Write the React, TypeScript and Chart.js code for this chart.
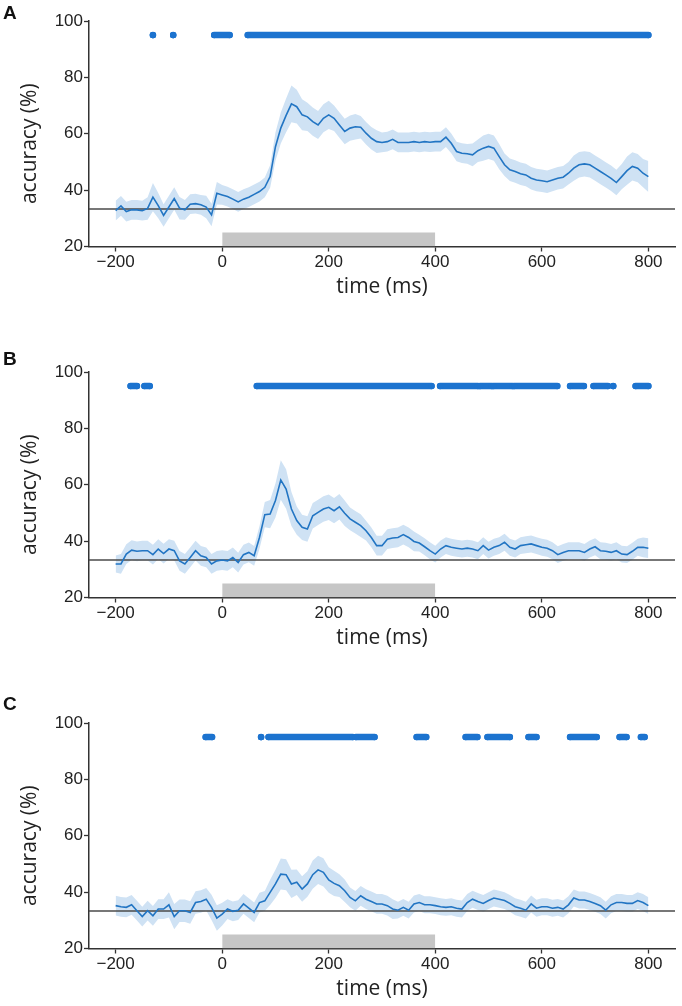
import React, { useEffect, useRef } from "react";
import { Chart, registerables } from "chart.js";

Chart.register(...registerables);

// ---------------- data ----------------
const TIME_MS = Array.from({ length: 101 }, (_, i) => -200 + i * 10);
const X_MIN = -250;
const X_MAX = 850;
const X_TICKS = [-200, 0, 200, 400, 600, 800];
const Y_MIN = 20;
const Y_MAX = 100;
const Y_TICKS = [20, 40, 60, 80, 100];
const CHANCE = 33.33;
const STIM_WINDOW = [0, 400];
const STIM_TOP = 25;
const SIG_LEVEL = 95;
const X_TITLE = "time (ms)";
const Y_TITLE = "accuracy (%)";

const MEAN_A = [
  32.7, 34.4, 32.4, 33.0, 33.0, 32.7, 33.5, 37.5, 34.5, 31.0,
  34.0, 37.0, 33.6, 33.0, 35.0, 35.2, 34.8, 34.0, 31.2, 38.9,
  38.3, 37.7, 36.8, 35.8, 36.8, 37.5, 38.5, 39.5, 41.0, 44.8,
  55.4, 62.0, 66.5, 70.6, 69.6, 66.7, 66.0, 64.3, 63.1, 65.5,
  66.7, 65.5, 63.1, 60.8, 62.0, 62.5, 62.3, 60.2, 58.4, 57.2,
  56.9, 57.2, 58.0, 56.9, 56.9, 56.9, 57.2, 56.9, 57.2, 57.0,
  57.2, 57.2, 58.8, 56.6, 53.7, 53.1, 52.9, 52.5, 54.0, 54.9,
  55.5, 54.9, 51.9, 49.0, 47.2, 46.6, 45.8, 45.4, 44.2, 43.6,
  43.3, 43.0, 43.6, 44.2, 44.6, 46.0, 47.8, 49.0, 49.3, 49.0,
  47.8, 46.6, 45.4, 44.2, 42.7, 44.8, 46.9, 48.4, 47.8, 46.0,
  44.8,
];
const ERR_A = [
  3.5, 3.5, 3.5, 3.5, 3.5, 3.5, 4, 5, 4.5, 4,
  4, 4, 4, 3.5, 3.5, 3.5, 3.5, 4, 4, 4,
  3.5, 3.5, 3.5, 3.5, 3.5, 3.5, 3.5, 3.5, 3.5, 4,
  5, 5.5, 6, 6.5, 6, 5.5, 5, 5, 5, 5,
  5, 4.5, 4.5, 4.5, 4.5, 4.5, 4, 4, 4, 4,
  3.5, 3.5, 3.5, 3.5, 3.5, 3.5, 3.5, 3.5, 3.5, 3.5,
  3.5, 3.5, 3.5, 3.5, 3.5, 3.5, 3.5, 4, 4, 4.5,
  4.5, 4.5, 4.5, 4, 4, 4, 4, 4, 4, 4,
  4, 4, 4, 4, 4, 4, 4.5, 4.5, 4.5, 4.5,
  4.5, 4.5, 4.5, 4.5, 4.5, 4.5, 5, 5, 5, 5,
  5.5,
];
const SIG_A = [[-130, -130], [-92, -92], [-15, 14], [48, 800]];

const MEAN_B = [
  31.9, 31.9, 35.4, 36.8, 36.4, 36.6, 36.6, 35.2, 37.2, 35.6,
  37.2, 36.6, 33.0, 31.9, 34.2, 36.6, 34.8, 34.2, 31.9, 33.0,
  33.3, 33.0, 34.2, 32.4, 35.2, 36.0, 34.8, 41.3, 49.4, 49.6,
  54.4, 61.7, 58.5, 51.4, 47.3, 44.9, 44.3, 49.0, 50.2, 51.4,
  52.0, 50.8, 52.2, 49.9, 47.9, 46.7, 45.5, 43.7, 41.3, 38.4,
  38.4, 40.7, 41.1, 41.3, 42.3, 41.3, 39.9, 39.3, 38.0, 36.6,
  35.4, 37.2, 38.4, 37.8, 37.5, 37.2, 37.5, 37.2, 36.6, 38.4,
  36.8, 37.8, 38.4, 39.6, 37.8, 37.2, 38.4, 38.7, 39.0, 38.4,
  37.8, 37.5, 36.6, 35.2, 36.0, 36.6, 36.6, 36.6, 36.0, 37.2,
  38.0, 36.6, 36.4, 36.0, 36.6, 35.4, 35.2, 36.4, 37.8, 37.8,
  37.5,
];
const ERR_B = [
  3, 3.5, 3.5, 3.5, 3.5, 3.5, 3.5, 3.5, 3.5, 3.5,
  3.5, 3.5, 3.5, 3.5, 3.5, 3.5, 3.5, 3.5, 3.5, 3.5,
  3.5, 3.5, 3.5, 3.5, 3.5, 3.5, 3.5, 4, 4.5, 5,
  6, 7, 7, 6, 5, 4.5, 4.5, 4.5, 4.5, 4.5,
  4.5, 4.5, 4.5, 4.5, 4, 4, 4, 3.5, 3.5, 3.5,
  3.5, 3.5, 3.5, 3.5, 3.5, 3.5, 3.5, 3, 3, 3,
  3, 3, 3, 3, 3, 3, 3, 3, 3, 3,
  3, 3, 3, 3, 3, 3, 3, 3, 3, 3,
  3, 3, 3, 3, 3, 3, 3, 3, 3, 3,
  3, 3, 3, 3, 3, 3, 3, 3, 3, 3.5,
  3.5,
];
const SIG_B = [
  [-172, -160], [-146, -136], [65, 393], [409, 480], [484, 506], [509, 545],
  [548, 629], [653, 679], [697, 724], [734, 734], [776, 800],
];

const MEAN_C = [
  35.2, 34.8, 34.6, 35.5, 33.4, 31.3, 33.4, 31.6, 34.0, 34.0,
  35.5, 31.3, 33.4, 33.4, 32.8, 36.3, 36.7, 37.5, 34.6, 30.8,
  32.2, 34.0, 33.2, 33.6, 35.8, 34.3, 32.8, 36.3, 36.9, 39.9,
  42.9, 46.4, 46.2, 42.9, 43.5, 41.1, 42.9, 46.2, 47.9, 47.0,
  44.3, 43.1, 42.3, 40.5, 38.1, 36.9, 38.7, 37.5, 36.7, 35.8,
  35.8, 35.2, 34.0, 33.6, 34.6, 33.6, 35.8, 36.3, 35.5, 35.5,
  35.2, 34.8, 34.6, 34.8, 34.3, 34.0, 36.3, 37.5, 36.7, 36.0,
  37.0, 37.9, 37.5, 37.0, 36.0, 34.8, 34.3, 33.6, 35.8, 34.3,
  34.8, 34.8, 34.3, 34.6, 34.0, 35.5, 37.9, 37.2, 37.2, 36.7,
  36.0, 35.2, 33.6, 35.5, 36.3, 36.3, 36.0, 36.0, 37.0, 36.3,
  35.2,
];
const ERR_C = [
  3.5, 3.5, 3.5, 3.5, 3.5, 3.5, 3.5, 3.5, 3.5, 3.5,
  4.5, 4.5, 4, 4, 4, 4, 4, 4, 4.5, 4.5,
  4, 3.5, 3.5, 3.5, 3.5, 3.5, 3.5, 3.5, 3.5, 4.5,
  5, 5.5, 5.5, 5, 4.5, 4.5, 4.5, 5, 5, 5,
  4.5, 4.5, 4, 4, 3.5, 3.5, 3.5, 3.5, 3.5, 3.5,
  3.5, 3.5, 3.5, 3, 3, 3, 3, 3, 3, 3,
  3, 3, 3, 3, 3, 3, 3, 3, 3, 3,
  3, 3, 3, 3, 3, 3, 3, 3, 3, 3,
  3, 3, 3, 3, 3, 3, 3, 3, 3, 3,
  3, 3, 3, 3, 3, 3, 3, 3, 3, 3,
  3,
];
const SIG_C = [
  [-31, -19], [73, 73], [87, 245], [251, 286], [365, 383], [457, 479],
  [498, 540], [575, 590], [653, 703], [746, 759], [786, 793],
];

const PANELS = [
  { letter: "A", mean: MEAN_A, err: ERR_A, sig: SIG_A },
  { letter: "B", mean: MEAN_B, err: ERR_B, sig: SIG_B },
  { letter: "C", mean: MEAN_C, err: ERR_C, sig: SIG_C },
];

// ---------------- style ----------------
const PANEL_TOPS = [0, 351, 702];
const LETTER_TOPS = [3, 349, 694];
const PANEL_H = 300;
const LINE_BLUE = "#2275c3";
const DOT_BLUE = "#1c73cf";
const BAND = "#cfe2f4";
const AXIS = "#333333";
const TEXT = "#222222";
const TICK_FONT = "'Liberation Sans', Arial, sans-serif";
const TITLE_FONT = "'Open Sans', 'Noto Sans', sans-serif";
const TITLE_SIZE = 21;

const fmt = (v: number) => String(v).replace("-", "\u2212");

// y-axis title drawn slightly below the plot centre, as in the figure
const yTitlePlugin = {
  id: "yTitle",
  afterDraw(chart: any) {
    const { ctx, chartArea } = chart;
    ctx.save();
    ctx.translate(30, (chartArea.top + chartArea.bottom) / 2 + 10);
    ctx.rotate(-Math.PI / 2);
    ctx.textAlign = "center";
    ctx.textBaseline = "middle";
    ctx.fillStyle = TEXT;
    ctx.font = `${TITLE_SIZE}px ${TITLE_FONT}`;
    ctx.fillText(Y_TITLE, 0, 0);
    ctx.restore();
  },
};

function Panel({ panel, top, letterTop }: any) {
  const ref = useRef<HTMLCanvasElement | null>(null);
  useEffect(() => {
    if (!ref.current) return;
    const meanPts = TIME_MS.map((t, i) => ({ x: t, y: panel.mean[i] }));
    const upper = TIME_MS.map((t, i) => ({ x: t, y: panel.mean[i] + panel.err[i] }));
    const lower = TIME_MS.map((t, i) => ({ x: t, y: panel.mean[i] - panel.err[i] }));
    const sigPts: any[] = [];
    panel.sig.forEach(([s, e]: number[]) => {
      sigPts.push({ x: s, y: SIG_LEVEL });
      sigPts.push({ x: e, y: SIG_LEVEL });
      sigPts.push({ x: e, y: null });
    });
    const gridOpts = {
      display: true,
      drawOnChartArea: false,
      drawTicks: true,
      tickLength: 5,
      tickColor: AXIS,
      tickWidth: 1.3,
    };
    const chart = new Chart(ref.current, {
      type: "line",
      data: {
        datasets: [
          {
            label: "sig",
            data: sigPts,
            borderColor: DOT_BLUE,
            backgroundColor: DOT_BLUE,
            borderWidth: 6.5,
            borderCapStyle: "round",
            pointRadius: 3.2,
            pointBorderWidth: 0,
            pointBackgroundColor: DOT_BLUE,
            spanGaps: false,
            fill: false,
          },
          {
            label: "mean",
            data: meanPts,
            borderColor: LINE_BLUE,
            borderWidth: 1.6,
            pointRadius: 0,
            fill: false,
            tension: 0,
          },
          {
            label: "chance",
            data: [
              { x: X_MIN, y: CHANCE },
              { x: X_MAX, y: CHANCE },
            ],
            borderColor: "#4a4a4a",
            borderWidth: 1.5,
            pointRadius: 0,
            fill: false,
          },
          {
            label: "upper",
            data: upper,
            borderColor: "rgba(0,0,0,0)",
            borderWidth: 0,
            pointRadius: 0,
            backgroundColor: BAND,
            fill: "+1",
          },
          {
            label: "lower",
            data: lower,
            borderColor: "rgba(0,0,0,0)",
            borderWidth: 0,
            pointRadius: 0,
            fill: false,
          },
          {
            label: "stimulus",
            data: [
              { x: STIM_WINDOW[0], y: STIM_TOP },
              { x: STIM_WINDOW[1], y: STIM_TOP },
            ],
            borderColor: "rgba(0,0,0,0)",
            borderWidth: 0,
            pointRadius: 0,
            backgroundColor: "#c6c6c6",
            fill: "start",
          },
        ],
      },
      options: {
        animation: false,
        responsive: true,
        maintainAspectRatio: false,
        events: [],
        layout: { padding: { top: 21, right: 7, bottom: 0, left: 0 } },
        plugins: {
          legend: { display: false },
          tooltip: { enabled: false },
          title: { display: false },
        },
        scales: {
          x: {
            type: "linear",
            min: X_MIN,
            max: X_MAX,
            afterBuildTicks: (s: any) => {
              s.ticks = X_TICKS.map((v) => ({ value: v }));
            },
            afterFit: (s: any) => {
              s.height = 53.5;
            },
            ticks: {
              autoSkip: false,
              maxRotation: 0,
              padding: 1,
              color: TEXT,
              font: { family: TICK_FONT, size: 17 },
              callback: (v: any) => fmt(v),
            },
            grid: gridOpts,
            border: { display: true, color: AXIS, width: 1.5 },
            title: {
              display: true,
              text: X_TITLE,
              color: TEXT,
              font: { family: TITLE_FONT, size: TITLE_SIZE },
              padding: { top: 0, bottom: 0 },
            },
          },
          y: {
            type: "linear",
            min: Y_MIN,
            max: Y_MAX,
            afterBuildTicks: (s: any) => {
              s.ticks = Y_TICKS.map((v) => ({ value: v }));
            },
            afterFit: (s: any) => {
              s.width = 89;
            },
            ticks: {
              padding: 1,
              color: TEXT,
              font: { family: TICK_FONT, size: 17 },
              callback: (v: any) => fmt(v),
            },
            grid: gridOpts,
            border: { display: true, color: AXIS, width: 1.5 },
            title: { display: false },
          },
        },
      } as any,
      plugins: [yTitlePlugin],
    } as any);
    return () => chart.destroy();
  }, [panel]);

  return (
    <>
      <div
        style={{
          position: "absolute",
          left: 0,
          top,
          width: 682,
          height: PANEL_H,
        }}
      >
        <canvas ref={ref} />
      </div>
      <div
        style={{
          position: "absolute",
          left: 3,
          top: letterTop,
          fontFamily: TICK_FONT,
          fontWeight: "bold",
          fontSize: 19,
          lineHeight: "20px",
          color: "#111",
        }}
      >
        {panel.letter}
      </div>
    </>
  );
}

export default function App() {
  return (
    <div
      style={{
        position: "absolute",
        left: 0,
        top: 0,
        width: 682,
        height: 1006,
        background: "#fff",
        overflow: "hidden",
      }}
    >
      {PANELS.map((p, i) => (
        <Panel key={p.letter} panel={p} top={PANEL_TOPS[i]} letterTop={LETTER_TOPS[i]} />
      ))}
    </div>
  );
}
